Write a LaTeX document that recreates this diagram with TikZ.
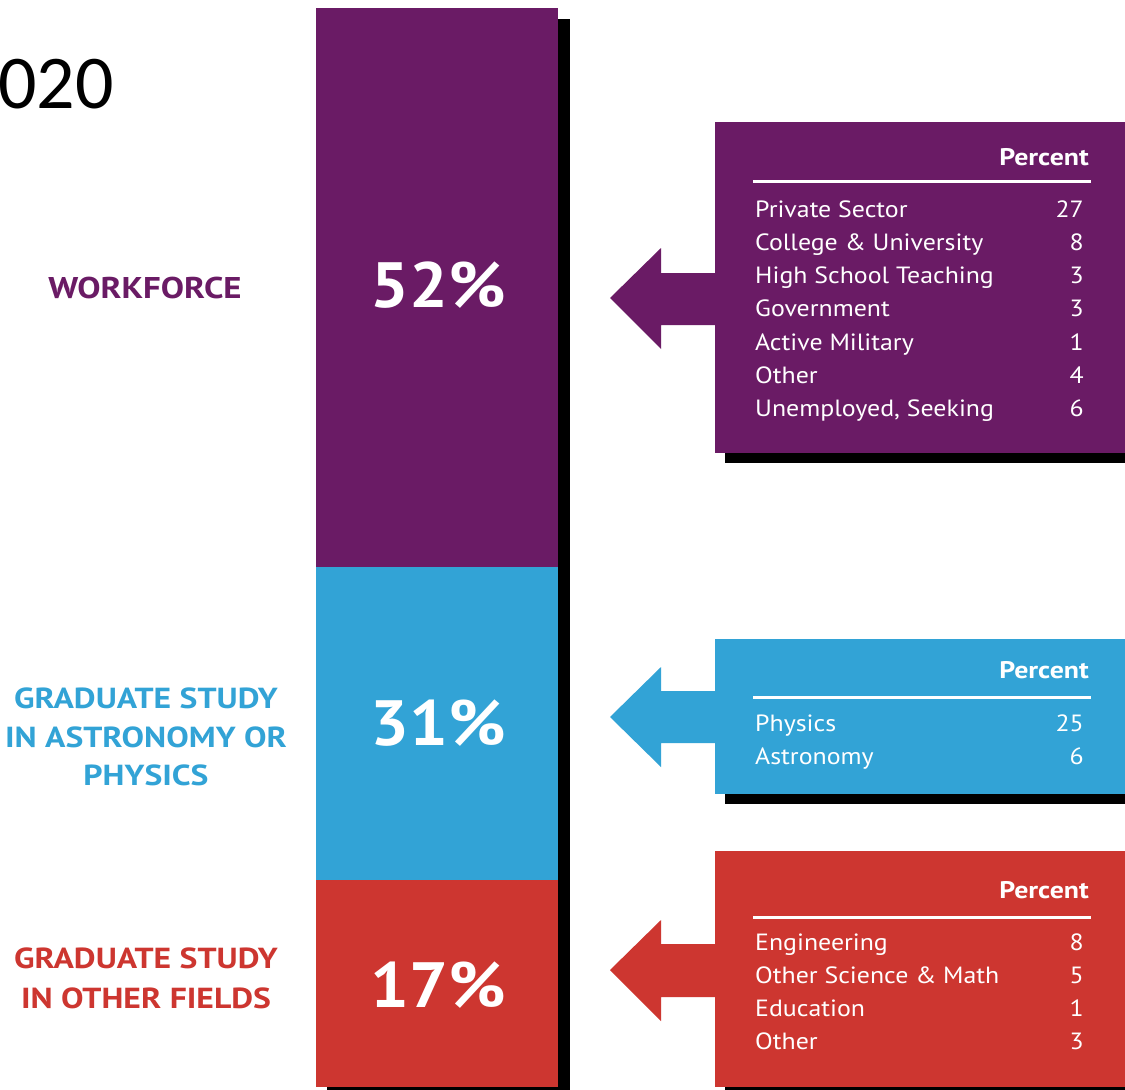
\documentclass[tikz,border=0pt]{standalone}
\usepackage{fontspec}
\setmainfont{PT Sans}
\setsansfont{PT Sans}
\newfontfamily\calibrifont{Carlito}
\newfontfamily\widefont[FakeStretch=1.10]{PT Sans}
\newfontfamily\widerfont[FakeStretch=1.16]{PT Sans}
\newfontfamily\bigfont[FakeStretch=1.07]{PT Sans}
\definecolor{purp}{RGB}{106,27,101}
\definecolor{bluec}{RGB}{50,163,214}
\definecolor{redc}{RGB}{205,54,48}
\tikzset{
  lbl/.style={inner sep=0pt, anchor=base, font=\widerfont\fontsize{30}{30}\selectfont\bfseries},
  lblsm/.style={inner sep=0pt, anchor=base, font=\widerfont\fontsize{29}{29}\selectfont\bfseries},
  bigpct/.style={inner sep=0pt, anchor=base, text=white, font=\bigfont\fontsize{64}{64}\selectfont\bfseries},
  rowtxt/.style={inner sep=0pt, anchor=base west, text=white, font=\widefont\fontsize{23.5}{24}\selectfont},
  rownum/.style={inner sep=0pt, anchor=base east, text=white, font=\widefont\fontsize{23.5}{24}\selectfont},
  hdr/.style={inner sep=0pt, anchor=base east, text=white, font=\widerfont\fontsize{24}{24}\selectfont\bfseries},
  rulel/.style={white, line width=3pt},
  shadowc/.style={fill=black, draw=none},
}
\begin{document}
\begin{tikzpicture}[x=1pt,y=-1pt]
\useasboundingbox (0,0) rectangle (1125,1090);
\fill[white] (0,0) rectangle (1125,1090);
% title fragment
\node[inner sep=0pt, anchor=base west, font=\calibrifont\fontsize{76}{76}\selectfont] (yr) at (-2,108) {020};
% central bar
\fill[shadowc] (558,19) rectangle (570,1090);
\fill[shadowc] (327,1087) rectangle (570,1090);
\fill[purp] (316,8) rectangle (558,567);
\fill[bluec] (316,567) rectangle (558,880);
\fill[redc] (316,880) rectangle (558,1087);
\node[bigpct] (p52) at (438,307) {52\%};
\node[bigpct] (p31) at (438,745) {31\%};
\node[bigpct] (p17) at (438,1007) {17\%};
% left labels
\node[lbl, text=purp] (lw) at (145,298) {WORKFORCE};
\node[lblsm, text=bluec] (lb1) at (146,708) {GRADUATE STUDY};
\node[lblsm, text=bluec] (lb2) at (146,747) {IN ASTRONOMY OR};
\node[lblsm, text=bluec] (lb3) at (146,785) {PHYSICS};
\node[lblsm, text=redc] (lr1) at (146,968) {GRADUATE STUDY};
\node[lblsm, text=redc] (lr2) at (146,1008) {IN OTHER FIELDS};
% ---------- purple box
\fill[shadowc] (725,453) rectangle (1130,463);
\fill[purp] (715,122) rectangle (1130,453);
\fill[purp] (716,273) -- (661,273) -- (661,248) -- (610,298) -- (661,349) -- (661,325) -- (716,325) -- cycle;
\node[hdr] (hp) at (1089,165) {Percent};
\draw[rulel] (753,181) -- (1091,181);
\foreach \t/\n/\y in {Private Sector/27/217, College \& University/8/250, High School Teaching/3/283, Government/3/316, Active Military/1/350, Other/4/383, Unemployed{,} Seeking/6/416}{
  \node[rowtxt] at (755,\y) {\t};
  \node[rownum] at (1084,\y) {\n};
}
% ---------- blue box
\fill[shadowc] (725,794) rectangle (1130,804);
\fill[bluec] (715,639) rectangle (1130,794);
\fill[bluec] (716,691) -- (661,691) -- (661,667) -- (610,717) -- (661,767) -- (661,743) -- (716,743) -- cycle;
\node[hdr] (hb) at (1089,678) {Percent};
\draw[rulel] (753,697) -- (1091,697);
\node[rowtxt] (b1) at (755,731) {Physics};
\node[rownum] (b1n) at (1084,731) {25};
\node[rowtxt] (b2) at (755,764) {Astronomy};
\node[rownum] (b2n) at (1084,764) {6};
% ---------- red box
\fill[shadowc] (725,1087) rectangle (1130,1095);
\fill[redc] (715,851) rectangle (1130,1087);
\fill[redc] (716,944) -- (661,944) -- (661,920) -- (610,970) -- (661,1021) -- (661,997) -- (716,997) -- cycle;
\node[hdr] (hr) at (1089,898) {Percent};
\draw[rulel] (753,917) -- (1091,917);
\foreach \t/\n/\y in {Engineering/8/950, Other Science \& Math/5/983, Education/1/1016, Other/3/1049}{
  \node[rowtxt] at (755,\y) {\t};
  \node[rownum] at (1084,\y) {\n};
}
\end{tikzpicture}
\end{document}
